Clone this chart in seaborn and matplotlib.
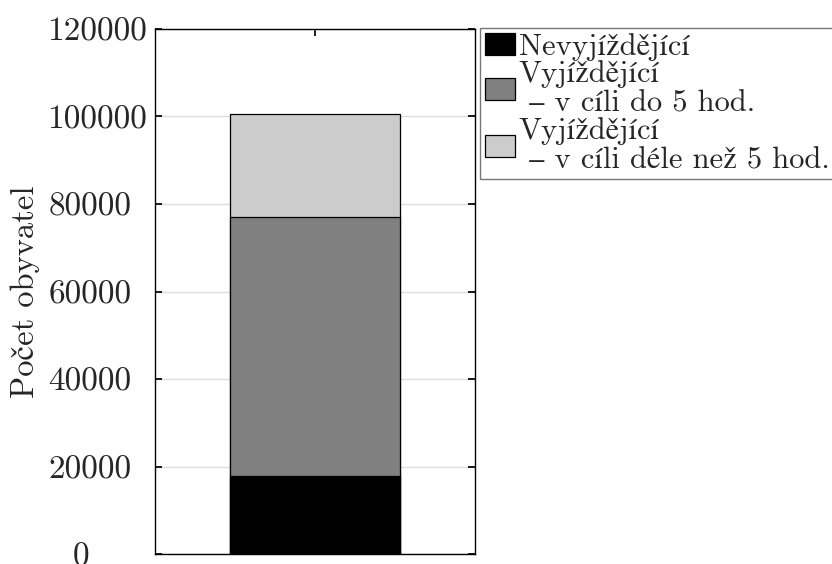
import matplotlib
matplotlib.use("Agg")
import matplotlib.pyplot as plt
import matplotlib.transforms as mtransforms
import seaborn as sns
import pandas as pd
import numpy as np
from matplotlib.patches import Patch

# Data
category = ["Obyvatelé"]
series_labels = [
    "Nevyjíždějící",
    "Vyjíždějící\n – v cíli do 5 hod.",
    "Vyjíždějící\n – v cíli déle než 5 hod.",
]
nevyjizdejici = [17900]
vyjizdejici_do5 = [59200]
vyjizdejici_nad5 = [23400]
colors = ["#000000", "#808080", "#cccccc"]
yticks = [0, 20000, 40000, 60000, 80000, 100000, 120000]

sns.set_theme(style="white")
plt.rcParams["font.family"] = ["cmr10", "STIXGeneral", "DejaVu Serif"]
plt.rcParams["mathtext.fontset"] = "cm"
plt.rcParams["axes.formatter.use_mathtext"] = True

df = pd.DataFrame({
    "kat": category,
    "s1": nevyjizdejici,
    "s2": vyjizdejici_do5,
    "s3": vyjizdejici_nad5,
})
df["c1"] = df["s1"]
df["c2"] = df["c1"] + df["s2"]
df["c3"] = df["c2"] + df["s3"]

fig = plt.figure(figsize=(8.32, 5.64), dpi=100)
ax = fig.add_axes([155 / 832, 1 - 554 / 564, 320 / 832, 525 / 564])

# stacked bar: draw cumulative totals from the top segment down
for col, color in zip(["c3", "c2", "c1"], colors[::-1]):
    sns.barplot(data=df, x="kat", y=col, color=color, width=0.8,
                edgecolor="black", linewidth=0.9, saturation=1, ax=ax, zorder=3)

ax.set_xlim(-0.75, 0.75)
ax.set_ylim(0, 120000)
ax.set_yticks(yticks)
ax.set_yticklabels([str(v) for v in yticks])
ax.set_xticks([0])
ax.set_xticklabels([])
ax.set_xlabel("")
ax.set_ylabel("Počet obyvatel", fontsize=23.5)
ax.yaxis.set_label_coords(-0.36, 0.5)
ax.yaxis.grid(True, color="#dddddd", linewidth=1.0, zorder=0)
ax.set_axisbelow(True)
ax.tick_params(axis="y", direction="in", left=True, right=True, length=5,
               labelsize=24, pad=6, color="black")
ax.tick_params(axis="x", direction="in", top=True, bottom=True, length=5, color="black")
for s in ax.spines.values():
    s.set_color("black")
    s.set_linewidth(1.0)

# tick labels sit centred in the margin rather than flush against the axis
for tick in ax.yaxis.get_major_ticks():
    txt = tick.label1.get_text()
    shift = {1: -57, 5: -15}.get(len(txt), 0)
    tick.label1.set_transform(tick.label1.get_transform()
                              + mtransforms.ScaledTranslation(shift / 100, 0, fig.dpi_scale_trans))

handles = [Patch(facecolor=c, edgecolor="black", linewidth=0.9) for c in colors]
leg = fig.legend(handles, series_labels, loc="upper left",
                 bbox_to_anchor=(480 / 832, 1 - 28 / 564),
                 fontsize=22, frameon=True, fancybox=False, borderpad=0.15,
                 labelspacing=0.0, handlelength=1.0, handleheight=0.72,
                 handletextpad=0.12, borderaxespad=0)
leg.get_frame().set_edgecolor("#555555")
leg.get_frame().set_linewidth(1.0)
for t in leg.get_texts():
    t.set_linespacing(1.07)

fig.savefig("out.png", dpi=100)
